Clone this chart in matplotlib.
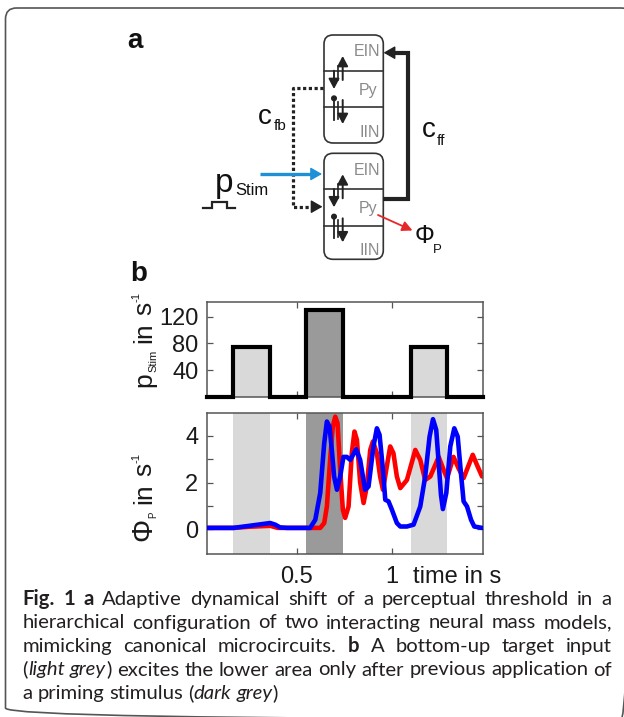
import numpy as np
import matplotlib
matplotlib.use('Agg')
import matplotlib.pyplot as plt
from matplotlib.patches import FancyBboxPatch, Circle

plt.rcParams['font.family'] = ['Liberation Sans', 'DejaVu Sans']

# ---------------- data ----------------
pulse_on = [0.165, 0.55, 1.10]
pulse_off = [0.36, 0.745, 1.29]
pulse_amp = [75, 130, 75]
pulse_kind = ['target', 'prime', 'target']
t_start, t_end = 0.026, 1.479

stim_yticks = [40, 80, 120]
phi_yticks = [0, 1, 2, 3, 4]
phi_yticklabels = ['0', '', '2', '', '4']
time_ticks = [0.5, 1]
time_ticklabels = ['0.5', '1']

blue_t = [0.026, 0.167, 0.26, 0.36, 0.386, 0.412, 0.45, 0.570, 0.597, 0.623, 0.644,
          0.658, 0.672, 0.684, 0.696, 0.711, 0.728, 0.745, 0.763, 0.781, 0.812,
          0.833, 0.859, 0.877, 0.903, 0.921, 0.935, 0.953, 0.965, 0.982, 1.0,
          1.026, 1.044, 1.079, 1.114, 1.149, 1.175, 1.198, 1.216, 1.233, 1.246,
          1.258, 1.268, 1.286, 1.307, 1.328, 1.346, 1.363, 1.377, 1.395, 1.416,
          1.433, 1.474]
blue_v = [0.05, 0.05, 0.15, 0.26, 0.19, 0.07, 0.05, 0.05, 0.4, 1.55, 3.69,
          4.62, 4.4, 3.4, 2.26, 1.69, 2.26, 3.1, 3.1, 2.97, 3.43,
          2.97, 1.69, 1.83, 3.55, 4.33, 4.05, 2.54, 1.26, 1.19, 0.83,
          0.26, 0.11, 0.11, 0.19, 0.97, 2.26, 3.97, 4.72, 4.26, 2.83,
          1.47, 0.86, 1.55, 3.55, 4.33, 3.97, 2.4, 1.19, 0.97, 0.4,
          0.11, 0.05]

red_t = [0.026, 0.167, 0.25, 0.36, 0.40, 0.623, 0.644, 0.658, 0.675, 0.689, 0.702,
         0.714, 0.728, 0.742, 0.754, 0.772, 0.789, 0.803, 0.816, 0.833, 0.851,
         0.868, 0.886, 0.9, 0.921, 0.938, 0.953, 0.97, 0.991, 1.008, 1.026,
         1.044, 1.079, 1.123, 1.149, 1.175, 1.202, 1.246, 1.272, 1.29, 1.324,
         1.351, 1.377, 1.425, 1.447, 1.474]
red_v = [0.05, 0.05, 0.1, 0.14, 0.05, 0.05, 0.26, 0.97, 2.97, 4.4, 4.83,
         4.55, 2.54, 0.83, 0.48, 0.97, 3.26, 4.19, 3.83, 2.0, 1.12,
         1.83, 3.4, 3.76, 3.26, 2.26, 1.69, 2.54, 3.55, 3.26, 2.26,
         1.76, 2.11, 3.4, 2.97, 2.11, 2.26, 3.1, 2.54, 2.19, 3.1,
         2.6, 2.19, 3.19, 2.76, 2.26]

caption_lines = [
    '**Fig. 1 a** Adaptive dynamical shift of a perceptual threshold in a',
    'hierarchical configuration of two interacting neural mass models,',
    'mimicking canonical microcircuits. **b** A bottom-up target input',
    '(__light grey__) excites the lower area only after previous application of',
    'a priming stimulus (__dark grey__)',
]

# ---------------- figure ----------------
W, H = 624, 717
fig = plt.figure(figsize=(W / 100, H / 100), dpi=100)
ax0 = fig.add_axes([0, 0, 1, 1])
ax0.set_xlim(0, W)
ax0.set_ylim(H, 0)
ax0.axis('off')
renderer = fig.canvas.get_renderer()

LIGHT = '#d9d9d9'
DARK = '#9a9a9a'
INK = '#222222'

# frame
ax0.add_patch(FancyBboxPatch((5.5, 8), 632 - 5.5, 719 - 8,
                             boxstyle='round,pad=0,rounding_size=11',
                             fill=False, ec='#555555', lw=1.2))

# ---------------- panel a: diagram ----------------
ax0.text(127, 48, 'a', fontsize=20, fontweight='bold', va='baseline', ha='left', color='#111')
ax0.text(130, 281, 'b', fontsize=20, fontweight='bold', va='baseline', ha='left', color='#111')


def arrow(x0, y0, x1, y1, color=INK, lw=1.0, hl=5, hw=2.5):
    ax0.annotate('', xy=(x1, y1), xytext=(x0, y0),
                 arrowprops=dict(arrowstyle=f'-|>,head_length={hl},head_width={hw}',
                                 color=color, lw=lw, shrinkA=0, shrinkB=0,
                                 mutation_scale=1))


for top, bot in [(35, 143), (153.3, 259.3)]:
    ax0.add_patch(FancyBboxPatch((324, top), 383.3 - 324, bot - top,
                                 boxstyle='round,pad=0,rounding_size=9',
                                 fill=False, ec='#333', lw=1.2))
    d1 = top + 35.7
    d2 = top + 72.3
    ax0.plot([324, 383.3], [d1, d1], color='#333', lw=1.2)
    ax0.plot([324, 383.3], [d2, d2], color='#333', lw=1.2)
    ax0.text(380, top + 21.5, 'EIN', fontsize=11.5, color='#8a8a8a', ha='right', va='baseline')
    ax0.text(377, top + 60, 'Py', fontsize=11.5, color='#8a8a8a', ha='right', va='baseline')
    ax0.text(380, top + 101.7, 'IIN', fontsize=11.5, color='#8a8a8a', ha='right', va='baseline')
    # excitatory synapses
    arrow(342.7, top + 45, 342.7, top + 21.0, lw=1.4, hl=6, hw=3.2)
    ax0.plot([338.3, 338.3], [top + 31, top + 45], color=INK, lw=1.2)
    arrow(334, top + 35.7, 334, top + 54, lw=1.4, hl=6, hw=3.2)
    # inhibitory
    ax0.plot([334, 334], [top + 63.3, top + 85], color=INK, lw=1.3)
    ax0.add_patch(Circle((334, top + 63.3), 2.3, color=INK))
    ax0.plot([338.3, 338.3], [top + 67, top + 84], color=INK, lw=1.2)
    arrow(342.7, top + 65, 342.7, top + 89, lw=1.4, hl=6, hw=3.2)

# feedforward (thick black)
ax0.plot([383.3, 408.3, 408.3, 393], [198.7, 198.7, 52.7, 52.7], color='#222', lw=3.0,
         solid_joinstyle='miter', solid_capstyle='butt')
arrow(395, 52.7, 383.6, 52.7, color='#222', lw=1.0, hl=7, hw=4)

# feedback (dotted)
ax0.plot([323, 293.3, 293.3, 315], [88.3, 88.3, 206.7, 206.7], color='#222', lw=2.3,
         ls=(0, (1.0, 0.8)), solid_joinstyle='miter')
arrow(314, 206.7, 322.5, 206.7, color='#222', lw=1.0, hl=7, hw=4)

# stimulus input (blue)
ax0.plot([260, 314], [174, 174], color='#1f8fd6', lw=2.4, solid_capstyle='butt')
arrow(312, 174, 322, 174, color='#1f8fd6', lw=1.0, hl=7, hw=4)

# output (red)
arrow(378, 215, 412.5, 230.5, color='#e62828', lw=1.3, hl=6, hw=3)

# labels in diagram
ax0.text(258, 124, 'c', fontsize=20, color='#111', va='baseline', ha='left')
ax0.text(274, 130, 'fb', fontsize=11, color='#111', va='baseline', ha='left')
ax0.text(422, 137, 'c', fontsize=20, color='#111', va='baseline', ha='left')
ax0.text(437, 145, 'ff', fontsize=11, color='#111', va='baseline', ha='left')
ax0.text(215, 192, 'p', fontsize=24, color='#111', va='baseline', ha='left')
ax0.text(235, 195, 'Stim', fontsize=12, color='#111', va='baseline', ha='left')
ax0.text(415, 243, 'Φ', fontsize=18, color='#111', va='baseline', ha='left')
ax0.text(433, 253, 'P', fontsize=9.5, color='#111', va='baseline', ha='left')
ax0.plot([203.3, 211.7, 211.7, 226.7, 226.7, 235], [208.3, 208.3, 201.7, 201.7, 208.3, 208.3],
         color='#222', lw=1.6, solid_joinstyle='miter')

# ---------------- panel b: data axes ----------------
def px_axes(l, r, t, b):
    return fig.add_axes([l / W, 1 - b / H, (r - l) / W, (b - t) / H])


axs = px_axes(206.7, 483, 302.5, 397)
axp = px_axes(206.7, 483, 412.7, 553.5)

TICK_FS = 17
for ax in (axs, axp):
    ax.set_xlim(t_start, t_end)
    ax.set_xticks(time_ticks)
    ax.tick_params(direction='in', length=4, width=0.9, top=True, right=True,
                   labelsize=TICK_FS, labelcolor='#1a1a1a', color='#555', pad=6)
    for s in ax.spines.values():
        s.set_color('#555555')
        s.set_linewidth(1.1)
axp.tick_params(axis='x', pad=9)

# stimulus
for on, off, amp, kind in zip(pulse_on, pulse_off, pulse_amp, pulse_kind):
    axs.bar(on, amp, width=off - on, align='edge',
            color=LIGHT if kind == 'target' else DARK, lw=0, zorder=1)
sx = [t_start]
sy = [0]
for on, off, amp in zip(pulse_on, pulse_off, pulse_amp):
    sx += [on, on, off, off]
    sy += [0, amp, amp, 0]
sx.append(t_end)
sy.append(0)
axs.plot(sx, sy, color='black', lw=3.0, solid_joinstyle='miter', zorder=3, clip_on=False)
axs.set_ylim(0, 141)
axs.set_yticks(stim_yticks)
axs.set_xticklabels([])

# responses
for on, off, kind in zip(pulse_on, pulse_off, pulse_kind):
    axp.axvspan(on, off, color=LIGHT if kind == 'target' else DARK, lw=0, zorder=0)
axp.plot(red_t, red_v, color='#ff0000', lw=3.3, zorder=2, solid_joinstyle='round',
         solid_capstyle='round')
axp.plot(blue_t, blue_v, color='#0000ff', lw=3.3, zorder=3, solid_joinstyle='round',
         solid_capstyle='round')
axp.set_ylim(-1.05, 5.0)
axp.set_yticks(phi_yticks)
axp.set_yticklabels(phi_yticklabels)
axp.set_xticklabels(time_ticklabels)

fig.canvas.draw()
tl_bb = axp.get_xticklabels()[1].get_window_extent(renderer)
ax0.text(413, H - tl_bb.y0, 'time in s', fontsize=TICK_FS, color='#1a1a1a',
         ha='left', va='bottom')


# rotated y labels built from pieces
def text_width(s, fs, **kw):
    t = ax0.text(0, 0, s, fontsize=fs, **kw)
    w = t.get_window_extent(renderer).width
    t.remove()
    return w


def space_width(fs, **kw):
    return text_width('x x', fs, **kw) - text_width('xx', fs, **kw)


def rot_label(xb, y0, pieces):
    y = y0
    for item in pieces:
        if item == ' ':
            y -= space_width(19)
            continue
        s, fs, shift = item
        ax0.text(xb + shift, y, s, fontsize=fs, rotation=90, rotation_mode='anchor',
                 ha='left', va='baseline', color='#1a1a1a')
        y -= text_width(s, fs)


rot_label(151, 387, [('p', 19, 0), ('Stim', 8, 5), ' ', ('in', 19, 0), ' ',
                     ('s', 19, 0), ('-1', 8, -11)])
rot_label(151, 541, [('Φ', 21, 0), ('P', 7, 5), ' ', ('in', 19, 0), ' ',
                     ('s', 19, 0), ('-1', 8, -11)])


# ---------------- caption ----------------
def parse(line):
    words = []
    bold = False
    ital = False
    for raw in line.split(' '):
        segs = []
        buf = ''
        i = 0
        while i < len(raw):
            if raw.startswith('**', i):
                if buf:
                    segs.append((buf, bold, ital))
                    buf = ''
                bold = not bold
                i += 2
            elif raw.startswith('__', i):
                if buf:
                    segs.append((buf, bold, ital))
                    buf = ''
                ital = not ital
                i += 2
            else:
                buf += raw[i]
                i += 1
        if buf:
            segs.append((buf, bold, ital))
        words.append(segs)
    return words


CAP_FAMILY = ['Lato', 'DejaVu Sans']
CAP_LEFT, CAP_RIGHT = 22.5, 612
cap_base = [605, 628.5, 652, 675.5, 699]


def seg_kw(b, i):
    return dict(family=CAP_FAMILY, fontweight='bold' if b else 'normal',
                fontstyle='italic' if i else 'normal')


def natural_width(words, fs):
    tot = 0
    for segs in words:
        tot += sum(text_width(s, fs, **seg_kw(b, i)) for s, b, i in segs)
    return tot + space_width(fs, family=CAP_FAMILY) * (len(words) - 1)


# size the caption font so the longest justified line is just filled
parsed = [parse(l) for l in caption_lines]
w_ref = max(natural_width(p, 12) for p in parsed[:-1])
CAP_FS = 12 * (CAP_RIGHT - CAP_LEFT - 4) / w_ref

for li, (words, yb) in enumerate(zip(parsed, cap_base)):
    widths = []
    for segs in words:
        widths.append([text_width(s, CAP_FS, **seg_kw(b, i)) for s, b, i in segs])
    total = sum(sum(w) for w in widths)
    if li < len(parsed) - 1:
        gap = (CAP_RIGHT - CAP_LEFT - total) / (len(words) - 1)
    else:
        gap = space_width(CAP_FS, family=CAP_FAMILY)
    x = CAP_LEFT
    for segs, ws in zip(words, widths):
        for (s, b, i), w in zip(segs, ws):
            ax0.text(x, yb, s, fontsize=CAP_FS, color='#231f20', ha='left', va='baseline',
                     **seg_kw(b, i))
            x += w
        x += gap

fig.savefig('out.png', dpi=100)
